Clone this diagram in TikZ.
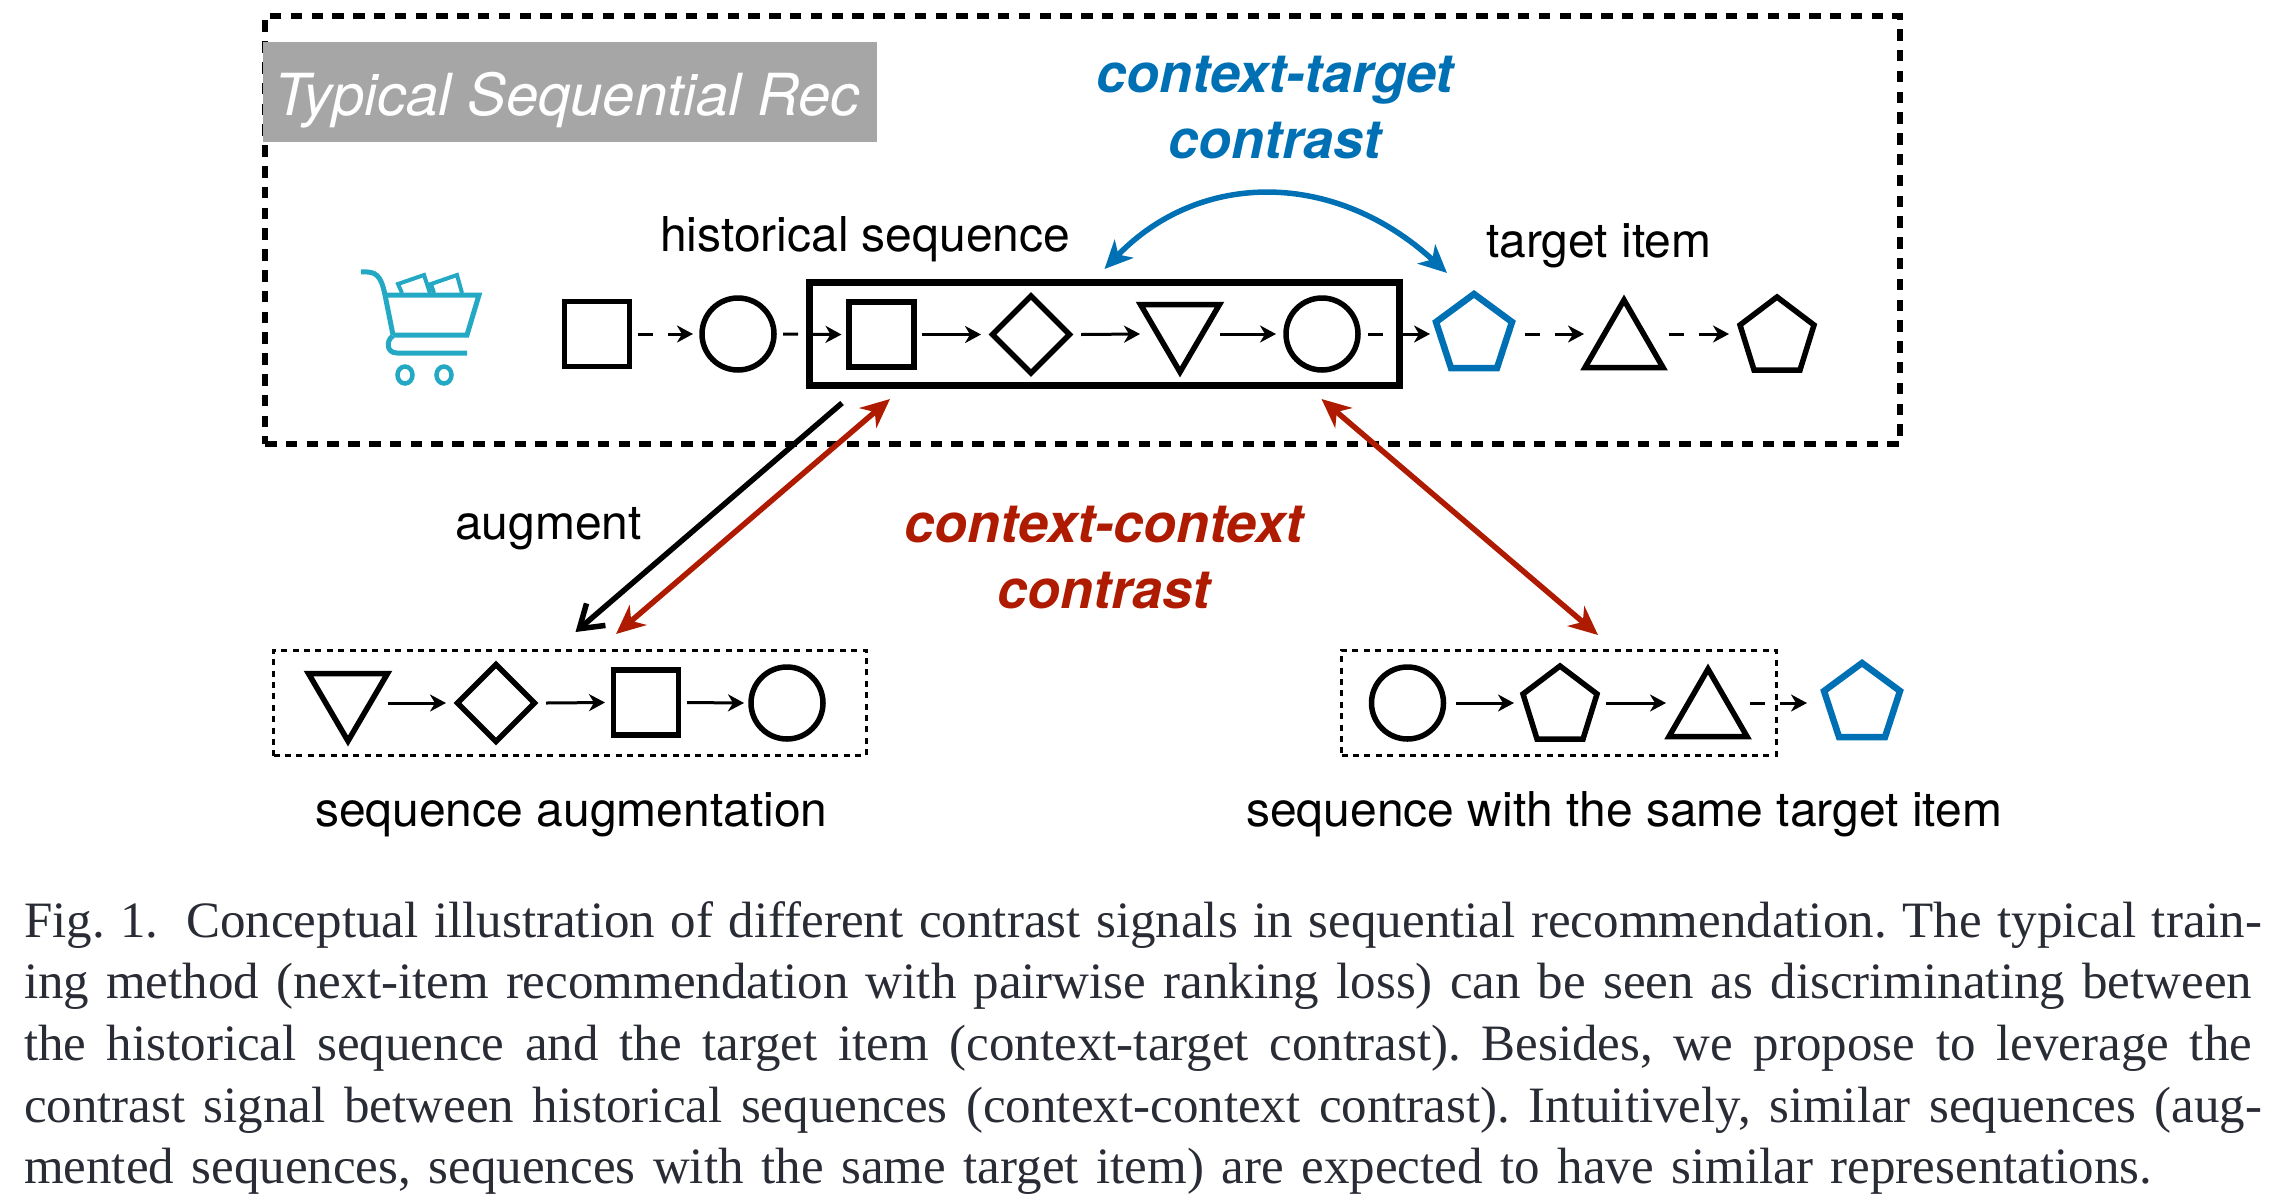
\documentclass[tikz,border=0pt]{standalone}
\usepackage{fontspec}
\setmainfont{TeX Gyre Heros}
\newfontfamily\capfont{Liberation Serif}
\usetikzlibrary{arrows.meta}
\definecolor{ctblue}{HTML}{0070B5}
\definecolor{ccred}{HTML}{AE1B00}
\definecolor{cartteal}{HTML}{24A9C4}
\definecolor{bandgray}{HTML}{A6A6A6}
\definecolor{captext}{HTML}{2A2C35}
\newcommand\pSq{(-32.5,-32.5) rectangle (32.5,32.5)}
\newcommand\pCirc{(0,0) circle[radius=36]}
\newcommand\pDia{(0,-38.5) -- (38.5,0) -- (0,38.5) -- (-38.5,0) -- cycle}
\newcommand\pDown{(-39.5,-29.5) -- (39.5,-29.5) -- (0,38) -- cycle}
\newcommand\pUp{(0,-34) -- (39,33.5) -- (-39,33.5) -- cycle}
\newcommand\pPent{(0,-37) -- (37,-9) -- (23,36) -- (-23,36) -- (-37,-9) -- cycle}
\newcommand\pBlue{(0,-40) -- (38,-12) -- (23,34) -- (-23,34) -- (-38,-12) -- cycle}
\newcommand\seqitem[6]{%
  \node[slot,minimum width=2*#4pt] (#1) at (#2,#3) {};
  \draw[shapeline,#6,shift={(#2,#3)}] #5;}
\tikzset{
  slot/.style={inner sep=0pt,outer sep=0pt,minimum height=10pt},
  shapeline/.style={draw=black,line width=5.5pt,miter limit=10},
  bluepent/.style={draw=ctblue,line width=6.5pt},
  seqarrow/.style={line width=3pt,-{Stealth[length=16pt,width=17pt,inset=5pt]}},
  gaparrow/.style={seqarrow,dash pattern=on 15pt off 15pt on 200pt},
  outerbox/.style={draw=black,line width=5.5pt,dash pattern=on 11.5pt off 9.3pt},
  dotbox/.style={draw=black,line width=3pt,dash pattern=on 6pt off 5.4pt,inner sep=0pt,outer sep=0pt},
  histbox/.style={draw=black,line width=7pt,inner sep=0pt,outer sep=0pt},
  bigarrow/.style={line width=5.5pt},
  redarrow/.style={bigarrow,draw=ccred,{Stealth[length=29pt,width=26pt,inset=9pt]}-{Stealth[length=29pt,width=26pt,inset=9pt]}},
  bluearrow/.style={bigarrow,draw=ctblue,{Stealth[length=28pt,width=26pt,inset=8pt]}-{Stealth[length=28pt,width=26pt,inset=8pt]}},
  augarrow/.style={bigarrow,-{Straight Barb[length=22pt,width=29pt]}},
  plainlabel/.style={inner sep=0pt,outer sep=0pt,anchor=base west,font=\fontsize{48}{54}\selectfont},
  boldlabel/.style={inner sep=0pt,outer sep=0pt,anchor=base,font=\fontsize{54}{60}\selectfont\bfseries\itshape},
  captionline/.style={inner sep=0pt,outer sep=0pt,anchor=base west,text=captext,font=\capfont\fontsize{51}{56}\selectfont\frenchspacing},
  cartline/.style={draw=cartteal,line width=5pt}
}
\begin{document}
\begin{tikzpicture}[x=1pt,y=-1pt]
\useasboundingbox (0,0) rectangle (2274,1200);
% outer dashed frame and title band
\node[outerbox,minimum width=1635pt,minimum height=428pt,inner sep=0pt,outer sep=0pt] (frame) at (1082.5,230) {};
\node[fill=bandgray,minimum width=613.5pt,minimum height=100pt,inner sep=0pt,outer sep=0pt] (band) at (569.75,92) {};
\node[inner sep=0pt,anchor=base west,text=white,font=\fontsize{58}{64}\selectfont\itshape] (bandtext) at (274,115) {Typical Sequential Rec};
% cart
\draw[cartline] (361,272) .. controls (376,271) and (381,275) .. (385,295) -- (393,335);
\draw[cartline,line join=miter] (385,295) -- (479,295) -- (467,335) -- (393,335);
\draw[cartline] (393,336) .. controls (386,340) and (386,353) .. (397,353) -- (467,353);
\draw[cartline,line width=4.5pt] (405,375) ellipse[x radius=7.5,y radius=8.5];
\draw[cartline,line width=4.5pt] (444,375) ellipse[x radius=7.5,y radius=8.5];
\draw[cartline,line width=4pt] (402,293) -- (398,284) -- (424,275) -- (430,293);
\draw[cartline,line width=4pt] (434,293) -- (431,284) -- (457,275) -- (462,293);
% historical box
\node[histbox,minimum width=590pt,minimum height=103pt] (hist) at (1104.5,334) {};
% top row
\seqitem{sa}{597}{334}{41}{\pSq}{}
\seqitem{ca}{738}{334}{45}{\pCirc}{}
\seqitem{sb}{881.5}{334.5}{40}{\pSq}{}
\seqitem{da}{1031}{334.5}{50}{\pDia}{}
\seqitem{ta}{1180}{334}{40}{\pDown}{}
\seqitem{cb}{1322}{334}{46}{\pCirc}{}
\seqitem{pa}{1474}{334}{44}{\pBlue}{bluepent}
\seqitem{tb}{1624}{334}{40}{\pUp}{}
\seqitem{pb}{1777}{334}{48}{\pPent}{}
\draw[gaparrow] (sa.east) -- (ca.west);
\draw[gaparrow] (ca.east) -- (sb.west);
\draw[seqarrow] (sb.east) -- (da.west);
\draw[seqarrow] (da.east) -- (ta.west);
\draw[seqarrow] (ta.east) -- (cb.west);
\draw[gaparrow] (cb.east) -- (pa.west);
\draw[gaparrow,shorten <=7pt] (pa.east) -- (tb.west);
\draw[gaparrow,shorten <=5pt] (tb.east) -- (pb.west);
% lower boxes
\node[dotbox,minimum width=592.5pt,minimum height=105.5pt] (augbox) at (569.75,702.75) {};
\node[dotbox,minimum width=434.4pt,minimum height=105.5pt] (samebox) at (1558.8,702.75) {};
\seqitem{tc}{348}{703}{40}{\pDown}{}
\seqitem{dc}{496}{703}{50}{\pDia}{}
\seqitem{sc}{646}{702.5}{41}{\pSq}{}
\seqitem{cc}{787}{703}{43}{\pCirc}{}
\draw[seqarrow] (tc.east) -- (dc.west);
\draw[seqarrow] (dc.east) -- (sc.west);
\draw[seqarrow] (sc.east) -- (cc.west);
\seqitem{cd}{1407.5}{703}{48.5}{\pCirc}{}
\seqitem{pc}{1560}{703}{46}{\pPent}{}
\seqitem{td}{1708}{703}{42}{\pUp}{}
\seqitem{pd}{1862}{703}{46}{\pBlue}{bluepent}
\draw[seqarrow] (cd.east) -- (pc.west);
\draw[seqarrow] (pc.east) -- (td.west);
\draw[gaparrow,shorten >=9pt] (td.east) -- (pd.west);
% big arrows
\coordinate (blueA) at (1104.5,269);
\coordinate (blueB) at (1447,273);
\coordinate (blueC) at (1200,170);
\coordinate (blueD) at (1335,170);
\draw[bluearrow] (blueA) .. controls (blueC) and (blueD) .. (blueB);
\coordinate (augA) at (842,403);
\coordinate (augB) at (575.5,632);
\draw[augarrow] (augA) -- (augB);
\coordinate (redA) at (890,399);
\coordinate (redB) at (616,634);
\draw[redarrow] (redA) -- (redB);
\coordinate (redC) at (1321.5,399);
\coordinate (redD) at (1598,635);
\draw[redarrow] (redC) -- (redD);
% labels
\node[plainlabel] (lhist) at (660,251.5) {historical sequence};
\node[plainlabel] (ltarget) at (1486,257.5) {target item};
\node[plainlabel] (laug) at (455,539) {augment};
\node[plainlabel] (lseqaug) at (315,826.5) {sequence augmentation};
\node[plainlabel] (lsame) at (1246,826.5) {sequence with the same target item};
\node[boldlabel,text=ctblue] (ctone) at (1275,92.5) {context-target};
\node[boldlabel,text=ctblue] (cttwo) at (1275,158.5) {contrast};
\node[boldlabel,text=ccred] (ccone) at (1104,542.5) {context-context};
\node[boldlabel,text=ccred] (cctwo) at (1104,608.5) {contrast};
% caption
\node[captionline] (capa) at (24,937) {\makebox[2238pt][s]{Fig. 1.\hspace{12pt} Conceptual illustration of different contrast signals in sequential recommendation. The typical train-}};
\node[captionline] (capb) at (24,998.7) {\makebox[2228pt][s]{ing method (next-item recommendation with pairwise ranking loss) can be seen as discriminating between}};
\node[captionline] (capc) at (24,1060.4) {\makebox[2228pt][s]{the historical sequence and the target item (context-target contrast). Besides, we propose to leverage the}};
\node[captionline] (capd) at (24,1122) {\makebox[2238pt][s]{contrast signal between historical sequences (context-context contrast). Intuitively, similar sequences (aug-}};
\node[captionline] (cape) at (24,1183.7) {\makebox[2128pt][s]{mented sequences, sequences with the same target item) are expected to have similar representations.}};
\end{tikzpicture}
\end{document}
